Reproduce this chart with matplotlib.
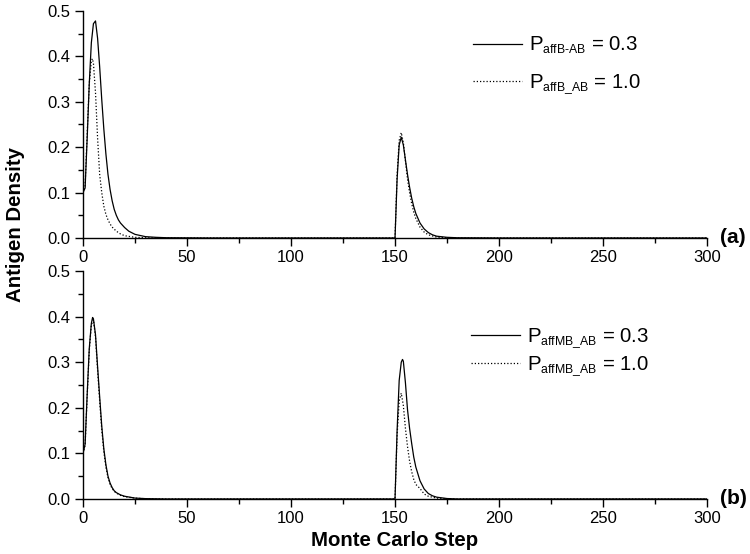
import matplotlib
matplotlib.use("Agg")
import matplotlib.pyplot as plt
import matplotlib._mathtext as _mt
from matplotlib.ticker import MultipleLocator

_mt.SHRINK_FACTOR = 0.6

plt.rcParams['font.family'] = ['Liberation Sans', 'DejaVu Sans']
plt.rcParams['mathtext.fontset'] = 'custom'
plt.rcParams['mathtext.rm'] = 'Liberation Sans'
plt.rcParams['mathtext.it'] = 'Liberation Sans:italic'
plt.rcParams['mathtext.bf'] = 'Liberation Sans:bold'

# ---- data (a) ----
a_solid_t = [0, 1, 2, 3, 4, 5, 6, 7, 8, 9, 10, 11, 12, 13, 14, 15, 16, 17, 18, 20, 22, 25, 30, 35, 40, 60, 149,
             150, 151, 152, 153, 154, 155, 156, 157, 158, 159, 160, 162, 164, 166, 168, 170, 175, 180, 200, 300]
a_solid_y = [0.100, 0.110, 0.220, 0.340, 0.430, 0.472, 0.478, 0.440, 0.377, 0.305, 0.240, 0.185, 0.140, 0.107,
             0.082, 0.063, 0.050, 0.040, 0.033, 0.023, 0.015, 0.008, 0.003, 0.0015, 0.0006, 0.0, 0.0,
             0.0, 0.130, 0.205, 0.222, 0.205, 0.172, 0.140, 0.112, 0.088, 0.069, 0.054, 0.033, 0.020, 0.012,
             0.007, 0.004, 0.0015, 0.0005, 0.0, 0.0]
a_dot_t = [0, 1, 2, 3, 4, 4.5, 5, 6, 7, 8, 9, 10, 11, 12, 13, 14, 16, 18, 20, 25, 30, 40, 149,
           150, 151, 152, 153, 154, 155, 156, 157, 158, 159, 160, 162, 164, 166, 170, 175, 180, 300]
a_dot_y = [0.100, 0.115, 0.230, 0.340, 0.390, 0.395, 0.385, 0.320, 0.220, 0.140, 0.100, 0.070, 0.052, 0.040,
           0.031, 0.024, 0.015, 0.009, 0.005, 0.0015, 0.0005, 0.0, 0.0,
           0.0, 0.140, 0.215, 0.232, 0.210, 0.170, 0.130, 0.100, 0.076, 0.057, 0.043, 0.024, 0.013, 0.007,
           0.002, 0.0005, 0.0, 0.0]

# ---- data (b) ----
b_solid_t = [0, 1, 2, 3, 4, 4.6, 5, 6, 7, 8, 9, 10, 11, 12, 13, 14, 15, 16, 18, 20, 25, 30, 40, 149,
             150, 151, 152, 153, 153.6, 154, 155, 156, 157, 158, 159, 160, 162, 164, 166, 168, 170, 175, 180, 300]
b_solid_y = [0.100, 0.120, 0.230, 0.330, 0.385, 0.398, 0.395, 0.360, 0.290, 0.224, 0.160, 0.110, 0.075, 0.050,
             0.035, 0.025, 0.018, 0.014, 0.009, 0.006, 0.002, 0.0008, 0.0, 0.0,
             0.0, 0.150, 0.260, 0.300, 0.306, 0.302, 0.255, 0.196, 0.155, 0.122, 0.092, 0.070, 0.040, 0.022,
             0.012, 0.007, 0.004, 0.001, 0.0, 0.0]
b_dot_t = [0, 1, 2, 3, 4, 5, 6, 7, 8, 9, 10, 11, 12, 13, 14, 15, 16, 18, 20, 25, 30, 40, 149,
           150, 151, 152, 153, 154, 155, 156, 157, 158, 159, 160, 162, 164, 166, 170, 175, 180, 300]
b_dot_y = [0.100, 0.118, 0.225, 0.325, 0.382, 0.393, 0.355, 0.283, 0.215, 0.152, 0.104, 0.070, 0.047, 0.032,
           0.023, 0.017, 0.013, 0.008, 0.005, 0.0018, 0.0006, 0.0, 0.0,
           0.0, 0.140, 0.215, 0.232, 0.205, 0.155, 0.115, 0.083, 0.060, 0.043, 0.032, 0.023, 0.011, 0.006,
           0.002, 0.0005, 0.0, 0.0]

a_labels = ['P$_{\\mathregular{affB‐AB}}$ = 0.3', 'P$_{\\mathregular{affB\\_AB}}$ = 1.0']
b_labels = ['P$_{\\mathregular{affMB\\_AB}}$ = 0.3', 'P$_{\\mathregular{affMB\\_AB}}$ = 1.0']
panel_tags = ['(a)', '(b)']
x_label = 'Monte Carlo Step'
y_label = 'Antigen Density'

fig = plt.figure(figsize=(7.5, 5.54), dpi=100)
ax1 = fig.add_axes([0.1107, 0.5704, 0.8320, 0.4098])
ax2 = fig.add_axes([0.1107, 0.0993, 0.8320, 0.4116])

dot_style = (0, (1.0, 1.6))
lw = 0.9
for ax, (st, sy, dt, dy), labels, tag in [
        (ax1, (a_solid_t, a_solid_y, a_dot_t, a_dot_y), a_labels, panel_tags[0]),
        (ax2, (b_solid_t, b_solid_y, b_dot_t, b_dot_y), b_labels, panel_tags[1])]:
    ax.plot(st, sy, color='black', lw=lw, label=labels[0])
    ax.plot(dt, dy, color='black', lw=lw, linestyle=dot_style, label=labels[1])
    ax.set_xlim(0, 300)
    ax.set_ylim(0, 0.5)
    ax.spines['top'].set_visible(False)
    ax.spines['right'].set_visible(False)
    for s in ('left', 'bottom'):
        ax.spines[s].set_linewidth(1.0)
    ax.xaxis.set_major_locator(MultipleLocator(50))
    ax.xaxis.set_minor_locator(MultipleLocator(25))
    ax.yaxis.set_major_locator(MultipleLocator(0.1))
    ax.yaxis.set_minor_locator(MultipleLocator(0.05))
    ax.tick_params(which='major', direction='out', length=6, width=1.0, labelsize=12, pad=3)
    ax.tick_params(which='minor', direction='out', length=3.5, width=1.0)
    ax.yaxis.set_major_formatter(plt.FuncFormatter(lambda v, p: f'{v:.1f}'))
    ax.text(1.02, 0.0, tag, transform=ax.transAxes, fontsize=15, fontweight='bold',
            ha='left', va='center')

leg1 = ax1.legend(loc='upper left', bbox_to_anchor=(0.625, 0.895), frameon=False, fontsize=14.7,
                  handlelength=2.4, handletextpad=0.35, labelspacing=0.8, borderpad=0, borderaxespad=0)
leg2 = ax2.legend(loc='upper left', bbox_to_anchor=(0.621, 0.757), frameon=False, fontsize=14.7,
                  handlelength=2.4, handletextpad=0.35, labelspacing=0.2, borderpad=0, borderaxespad=0)

ax2.set_xlabel(x_label, fontsize=14.7, fontweight='bold', labelpad=3)
fig.text(0.021, 1 - 224 / 554, y_label, rotation=90, fontsize=14.7, fontweight='bold',
         ha='center', va='center')

fig.savefig('out.png', dpi=100)
